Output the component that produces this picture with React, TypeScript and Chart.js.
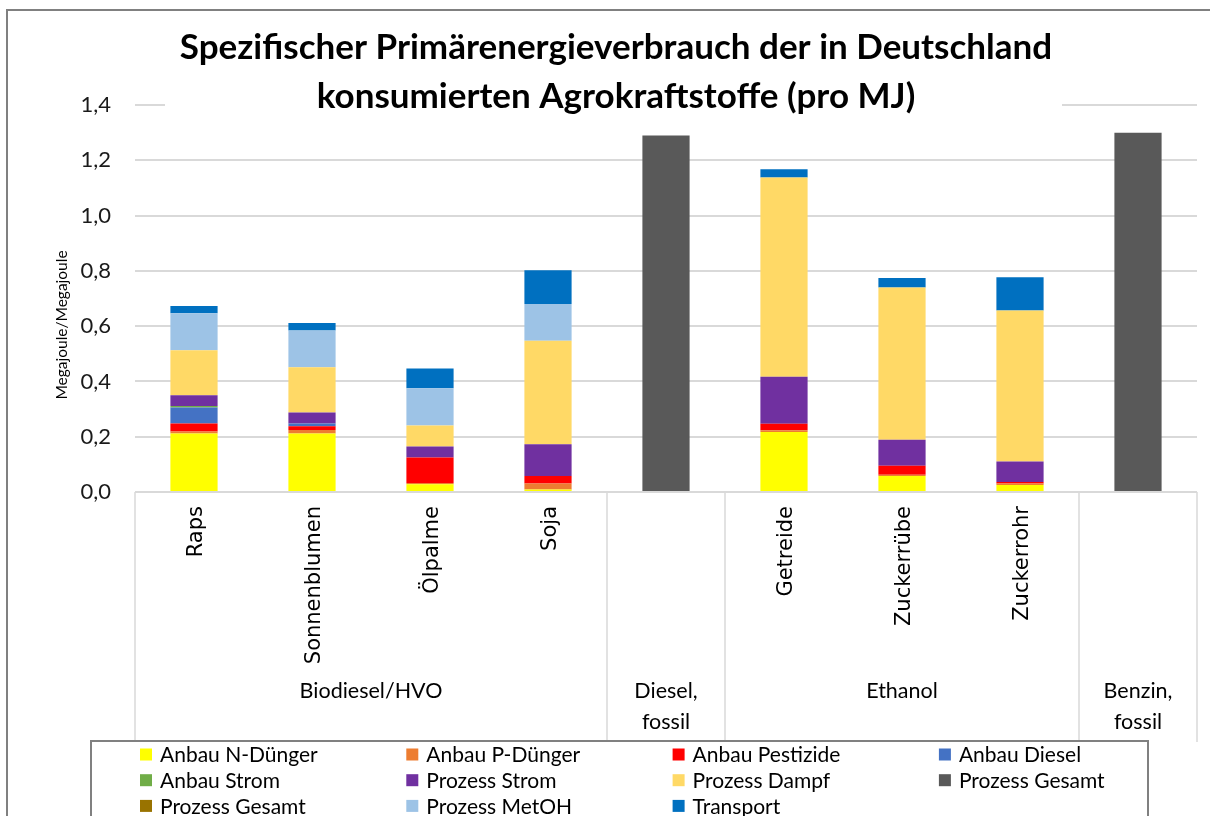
import { useEffect, useRef } from 'react';
import { Chart, registerables } from 'chart.js';

Chart.register(...registerables);

// ---------- data ----------
const categories = ['Raps', 'Sonnenblumen', 'Ölpalme', 'Soja', '', 'Getreide', 'Zuckerrübe', 'Zuckerrohr', ''];
const groupLabels = [['Biodiesel/HVO'], ['Diesel,', 'fossil'], ['Ethanol'], ['Benzin,', 'fossil']];
const groupSpans = [4, 1, 3, 1];

const nDuenger = [0.212, 0.212, 0.028, 0.009, 0, 0.217, 0.058, 0.025, 0];
const pDuenger = [0.007, 0.012, 0.005, 0.022, 0, 0.006, 0.004, 0.006, 0];
const pestizide = [0.029, 0.014, 0.092, 0.027, 0, 0.024, 0.033, 0.005, 0];
const anbauDiesel = [0.058, 0.010, 0, 0, 0, 0, 0, 0, 0];
const anbauStrom = [0.005, 0, 0, 0, 0, 0, 0, 0, 0];
const prozessStrom = [0.039, 0.040, 0.040, 0.115, 0, 0.170, 0.094, 0.074, 0];
const prozessDampf = [0.163, 0.163, 0.076, 0.374, 0, 0.721, 0.551, 0.547, 0];
const prozessGesamtFossil = [0, 0, 0, 0, 1.29, 0, 0, 0, 1.30];
const prozessGesamt = [0, 0, 0, 0, 0, 0, 0, 0, 0];
const prozessMetOH = [0.134, 0.133, 0.134, 0.133, 0, 0, 0, 0, 0];
const transport = [0.026, 0.027, 0.072, 0.122, 0, 0.030, 0.034, 0.120, 0];

const yTicks = [0, 0.2, 0.4, 0.6, 0.8, 1.0, 1.2, 1.4];

const titleLines = ['Spezifischer Primärenergieverbrauch der in Deutschland', 'konsumierten Agrokraftstoffe (pro MJ)'];
const yTitle = 'Megajoule/Megajoule';

const series = [
  { label: 'Anbau N-Dünger', data: nDuenger, color: '#FFFF00' },
  { label: 'Anbau P-Dünger', data: pDuenger, color: '#ED7D31' },
  { label: 'Anbau Pestizide', data: pestizide, color: '#FF0000' },
  { label: 'Anbau Diesel', data: anbauDiesel, color: '#4472C4' },
  { label: 'Anbau Strom', data: anbauStrom, color: '#70AD47' },
  { label: 'Prozess Strom', data: prozessStrom, color: '#7030A0' },
  { label: 'Prozess Dampf', data: prozessDampf, color: '#FFD966' },
  { label: 'Prozess Gesamt', data: prozessGesamtFossil, color: '#595959' },
  { label: 'Prozess Gesamt', data: prozessGesamt, color: '#997300' },
  { label: 'Prozess MetOH', data: prozessMetOH, color: '#9DC3E6' },
  { label: 'Transport', data: transport, color: '#0070C0' },
];

const NARROW = "Lato, 'Open Sans', sans-serif";
const WIDE = "'DejaVu Sans', Verdana, sans-serif";

const decor = {
  id: 'decor',
  beforeDraw(chart: any) {
    const { ctx, width, height } = chart;
    ctx.save();
    ctx.fillStyle = '#ffffff';
    ctx.fillRect(0, 0, width, height);
    ctx.strokeStyle = '#808080';
    ctx.lineWidth = 2;
    ctx.strokeRect(7, 10, width + 40, height + 40);
    ctx.restore();
  },
  beforeDatasetsDraw(chart: any) {
    const { ctx } = chart;
    ctx.save();
    ctx.fillStyle = '#ffffff';
    ctx.fillRect(165, 18, 897, 100);
    ctx.fillStyle = '#000000';
    ctx.font = `bold 35px ${NARROW}`;
    ctx.textAlign = 'center';
    ctx.textBaseline = 'middle';
    ctx.fillText(titleLines[0], 616, 48);
    ctx.fillText(titleLines[1], 616, 97);
    // y axis title
    ctx.translate(62, 325);
    ctx.rotate(-Math.PI / 2);
    ctx.font = `15.5px ${NARROW}`;
    ctx.fillText(yTitle, 0, 0);
    ctx.restore();
  },
  afterDraw(chart: any) {
    const { ctx, chartArea } = chart;
    const xs = chart.scales.x;
    const n = categories.length;
    const w = (chartArea.right - chartArea.left) / n;
    ctx.save();
    // category labels (rotated)
    ctx.fillStyle = '#000000';
    ctx.font = `21px ${WIDE}`;
    ctx.textAlign = 'right';
    ctx.textBaseline = 'middle';
    categories.forEach((c, i) => {
      if (!c) return;
      const cx = xs.getPixelForValue(i);
      ctx.save();
      ctx.translate(cx + 3, 506);
      ctx.rotate(-Math.PI / 2);
      ctx.fillText(c, 0, 0);
      ctx.restore();
    });
    // separators + group labels
    ctx.strokeStyle = '#d9d9d9';
    ctx.lineWidth = 1.5;
    let start = 0;
    const bottomY = 742;
    const drawSep = (x: number) => {
      ctx.beginPath();
      ctx.moveTo(x, chartArea.bottom);
      ctx.lineTo(x, bottomY);
      ctx.stroke();
    };
    drawSep(chartArea.left);
    ctx.font = `21.5px ${NARROW}`;
    ctx.textAlign = 'center';
    groupSpans.forEach((span, g) => {
      const x0 = chartArea.left + start * w;
      const x1 = chartArea.left + (start + span) * w;
      drawSep(x1);
      const lines = groupLabels[g];
      lines.forEach((l, k) => {
        ctx.fillText(l, (x0 + x1) / 2, 691 + k * 31);
      });
      start += span;
    });
    // legend
    ctx.fillStyle = '#ffffff';
    ctx.fillRect(91, 741, 1057, 120);
    ctx.strokeStyle = '#808080';
    ctx.lineWidth = 2;
    ctx.strokeRect(91, 741, 1057, 120);
    ctx.font = `21px ${NARROW}`;
    ctx.textAlign = 'left';
    ctx.textBaseline = 'middle';
    chart.data.datasets.forEach((ds: any, i: number) => {
      const col = i % 4;
      const row = Math.floor(i / 4);
      const x = 140 + col * 266.3;
      const yc = 754.5 + row * 25.7;
      ctx.fillStyle = ds.backgroundColor;
      ctx.fillRect(x, yc - 6, 12, 12);
      ctx.fillStyle = '#000000';
      ctx.fillText(ds.label, x + 20, yc + 1);
    });
    ctx.restore();
  },
};

export default function App() {
  const ref = useRef<HTMLCanvasElement>(null);
  useEffect(() => {
    document.body.style.margin = '0';
    const canvas = ref.current!;
    const chart = new Chart(canvas, {
      type: 'bar',
      data: {
        labels: categories,
        datasets: series.map((s) => ({
          label: s.label,
          data: s.data,
          backgroundColor: s.color,
          borderWidth: 0,
          barPercentage: 0.4,
          categoryPercentage: 1,
          stack: 's',
        })),
      },
      options: {
        animation: false,
        responsive: true,
        maintainAspectRatio: false,
        layout: { padding: { top: 105, right: 13, left: 0, bottom: 0 } },
        plugins: { legend: { display: false }, tooltip: { enabled: false }, title: { display: false } },
        scales: {
          x: {
            stacked: true,
            grid: { display: false },
            border: { display: false },
            ticks: { display: false },
            afterFit: (scale: any) => { scale.height = 324; },
          },
          y: {
            stacked: true,
            min: 0,
            max: 1.4,
            afterBuildTicks: (scale: any) => { scale.ticks = yTicks.map((v) => ({ value: v })); },
            ticks: {
              padding: 24,
              color: '#1a1a1a',
              font: { family: NARROW, size: 22 },
              callback: (v: any) => Number(v).toFixed(1).replace('.', ','),
            },
            grid: { color: '#d9d9d9', lineWidth: 2, drawTicks: false },
            border: { display: false },
            afterFit: (scale: any) => { scale.width = 135; },
          },
        },
      },
      plugins: [decor],
    });
    return () => chart.destroy();
  }, []);
  return (
    <div style={{ width: 1210, height: 816, position: 'relative' }}>
      <canvas ref={ref} />
    </div>
  );
}
